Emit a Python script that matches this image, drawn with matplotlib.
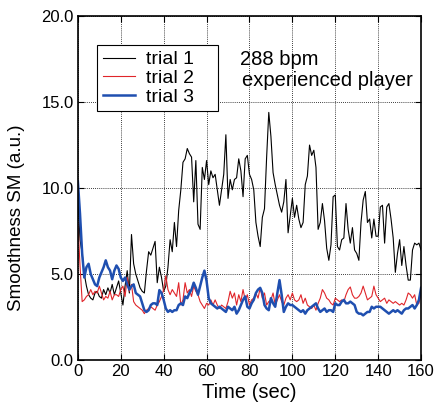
# smoothness vs time, three trials
import numpy as np
import matplotlib
matplotlib.use('Agg')
from matplotlib import pyplot as plt

plt.rcParams['font.family'] = ['Liberation Sans', 'DejaVu Sans']

t = np.arange(0, 161)

trial1 = [9.5, 7.0, 6.2, 5.0, 4.3, 3.8, 3.6, 3.5, 3.9, 4.0,
          3.7, 3.6, 4.1, 3.8, 4.2, 3.9, 4.4, 3.8, 4.2, 4.6,
          3.9, 3.2, 4.3, 5.2, 3.9, 7.3, 5.6, 5.0, 4.6, 4.2,
          4.0, 3.9, 5.2, 6.3, 6.1, 6.5, 6.9, 4.5, 5.4, 4.8,
          4.0, 4.3, 5.4, 7.0, 6.3, 8.0, 6.6, 8.7, 9.9, 11.5,
          11.7, 12.3, 12.0, 11.8, 9.2, 11.6, 7.9, 7.6, 11.2, 10.5,
          11.6, 10.2, 11.0, 10.6, 10.8, 9.9, 9.0, 9.9, 10.8, 13.1,
          9.4, 10.5, 9.9, 10.5, 10.6, 11.7, 11.0, 9.5, 11.7, 11.9,
          10.8, 10.5, 9.9, 8.0, 7.2, 6.6, 8.3, 8.8, 11.8, 14.4,
          13.0, 10.9, 10.2, 9.6, 9.0, 8.6, 9.2, 10.5, 7.4, 8.4,
          9.4, 8.3, 9.0, 8.2, 7.7, 8.0, 10.2, 10.7, 12.5, 11.9,
          12.2, 11.2, 7.6, 8.0, 9.1, 8.1, 6.5, 5.8, 6.7, 9.5,
          9.6, 6.6, 6.4, 7.0, 7.1, 9.1, 7.6, 6.8, 7.7, 6.4,
          6.2, 5.8, 8.0, 9.3, 9.8, 8.0, 8.2, 7.1, 8.2, 7.2,
          7.2, 8.9, 9.0, 6.8, 8.9, 9.1, 8.2, 7.1, 5.1, 6.2,
          7.0, 5.5, 6.6, 5.5, 4.65, 4.65, 6.4, 6.8, 6.7, 6.8, 6.4]

trial2 = [8.0, 5.5, 3.4, 3.5, 3.7, 3.8, 4.1, 3.8, 4.0, 3.9,
          4.3, 3.9, 3.5, 3.7, 3.6, 4.0, 3.5, 3.8, 3.8, 3.7,
          4.1, 4.3, 3.7, 4.8, 4.0, 4.4, 3.4, 3.2, 3.1, 3.0,
          2.9, 2.7, 2.9, 3.0, 3.1, 3.0, 2.9, 3.2, 3.4, 3.7,
          4.1, 4.9, 4.1, 3.8, 4.1, 3.9, 3.7, 4.5, 3.2, 3.5,
          4.5, 3.9, 4.1, 3.7, 4.3, 4.0, 3.8, 3.4, 3.2, 3.0,
          3.3, 3.2, 3.5, 3.2, 3.5, 3.2, 3.0, 3.2, 3.1, 3.0,
          3.4, 4.0, 3.6, 3.9, 3.2, 3.8, 3.4, 4.1, 3.5, 3.8,
          3.2, 3.5, 3.6, 3.9, 3.6, 4.2, 3.6, 3.9, 3.2, 3.4,
          3.5, 3.9, 3.2, 3.5, 3.8, 3.4, 3.2, 3.6, 3.8, 3.5,
          3.9, 3.5, 3.4, 3.5, 3.8, 3.3, 3.6, 3.2, 3.1, 3.0,
          3.2, 2.9, 3.3, 3.6, 4.1, 3.9, 3.6, 3.5, 3.3, 3.2,
          3.6, 3.5, 3.4, 3.5, 3.4, 3.8, 4.1, 4.25, 3.8, 3.6,
          3.6, 3.7, 3.9, 4.3, 3.9, 3.5, 3.6, 3.7, 4.3, 3.8,
          3.6, 3.4, 3.5, 3.6, 3.3, 3.5, 3.4, 3.3, 3.4, 3.3,
          3.2, 3.3, 3.2, 3.5, 3.9, 3.8, 3.6, 3.8, 3.2, 3.3, 3.9]

trial3 = [10.4, 8.5, 6.2, 4.8, 5.4, 5.6, 5.0, 4.7, 4.4, 4.3,
          4.8, 5.1, 5.4, 5.8, 5.4, 5.2, 4.7, 5.2, 5.5, 5.3,
          4.8, 4.6, 4.8, 4.4, 4.1, 4.3, 4.4, 3.9, 3.8, 3.7,
          3.3, 2.9, 2.8, 2.9, 3.2, 3.3, 3.3, 3.2, 4.07, 3.9,
          3.5, 3.0, 2.8, 2.9, 2.8, 2.9, 2.9, 3.2, 3.3, 3.2,
          3.7, 3.6, 3.9, 4.1, 4.5, 4.2, 3.8, 4.3, 4.8, 5.2,
          4.6, 3.6, 3.3, 3.2, 3.1, 3.0, 3.1, 3.0, 2.9, 2.8,
          3.1, 3.0, 2.9, 3.1, 2.7, 2.9, 3.2, 3.5, 3.7, 3.1,
          3.0, 3.3, 3.5, 3.9, 4.1, 4.2, 3.9, 3.2, 3.0, 2.9,
          3.6, 3.3, 3.1, 3.9, 4.65, 3.8, 2.8, 3.1, 3.3, 3.2,
          3.2, 3.1, 3.0, 2.9, 2.8, 2.9, 2.7, 2.9, 3.0, 3.1,
          3.2, 3.3, 3.0, 2.8, 2.9, 3.0, 2.8, 2.9, 2.9, 2.8,
          3.3, 3.2, 3.2, 3.4, 3.5, 3.3, 3.3, 3.4, 3.3, 3.2,
          2.8, 2.7, 2.7, 2.6, 2.7, 2.8, 2.8, 3.1, 3.0, 3.1,
          3.1, 3.1, 3.0, 2.9, 2.8, 2.7, 2.8, 2.9, 2.8, 2.9,
          2.8, 2.7, 2.9, 3.0, 3.0, 3.1, 3.2, 3.0, 3.2, 3.5, 4.2]

xticks = [0, 20, 40, 60, 80, 100, 120, 140, 160]
yticks = [0, 5, 10, 15, 20]

fig = plt.figure(figsize=(4.35, 4.12), dpi=100)
ax = fig.add_axes([0.179, 0.126, 0.789, 0.835])

ax.plot(t, trial1, color='k', lw=0.8, label='trial 1')
ax.plot(t, trial2, color='#e0252a', lw=0.8, label='trial 2')
ax.plot(t, trial3, color='#1f4fb0', lw=1.8, label='trial 3')

ax.set_xlim(0, 160)
ax.set_ylim(0, 20)
ax.set_xticks(xticks)
ax.set_yticks(yticks)
ax.set_yticklabels(['%.1f' % v for v in yticks])
ax.tick_params(direction='in', top=True, right=True, length=4, labelsize=12, pad=3)
ax.grid(True, color='k', ls=(0, (1, 1.5)), lw=0.6)
for s in ax.spines.values():
    s.set_linewidth(1.2)

ax.set_xlabel('Time (sec)', fontsize=14.5, labelpad=3)
ax.set_ylabel('Smoothness SM (a.u.)', fontsize=13.5, labelpad=5)
ax.yaxis.set_label_coords(-0.155, 0.415)

leg = ax.legend(loc='upper left', bbox_to_anchor=(0.055, 0.716, 0.353, 0.2), mode='expand',
                fontsize=14, frameon=True, fancybox=False, edgecolor='k', framealpha=1,
                handlelength=1.65, labelspacing=0.05, borderpad=0.3, handletextpad=0.6,
                borderaxespad=0)
leg.get_frame().set_linewidth(0.8)

ax.text(0.472, 0.858, '288 bpm', transform=ax.transAxes, fontsize=14.5, va='baseline')
ax.text(0.478, 0.797, 'experienced player', transform=ax.transAxes, fontsize=14.5, va='baseline')

fig.savefig('out.png', dpi=100)
